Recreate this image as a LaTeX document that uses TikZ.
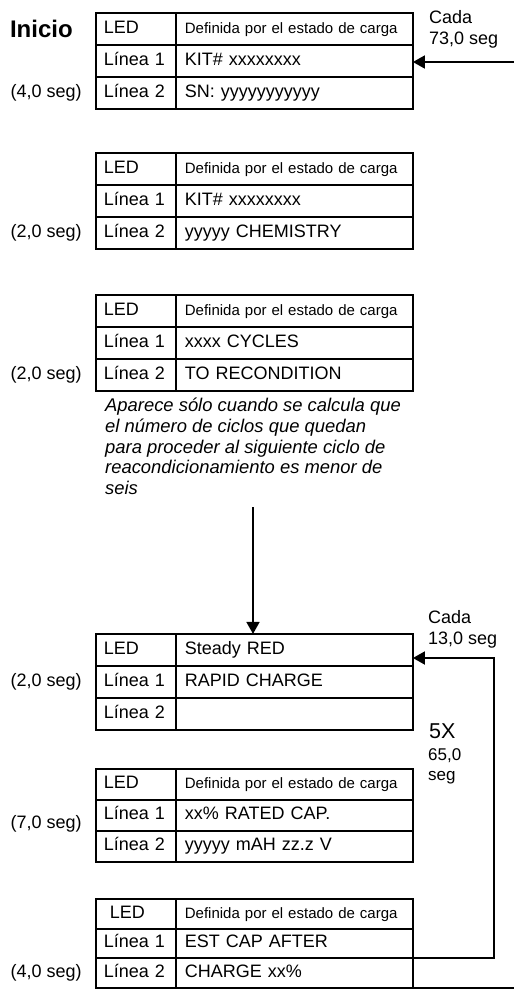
\documentclass[tikz,border=0pt]{standalone}
\usepackage{fontspec}
\setmainfont{Liberation Sans}
\usetikzlibrary{arrows.meta,positioning,matrix}

\tikzset{
    lcd/.style={matrix of nodes, nodes in empty cells,
        anchor=north west, inner sep=0pt, outer sep=0pt,
        column sep=-1.8pt, row sep=-1.8pt,
        nodes={draw, line width=1.8pt, outer sep=0pt, inner ysep=0pt, anchor=center,
            minimum height=#1, text height=13pt, text depth=4pt,
            align=left, font=\fontsize{18}{21}\selectfont},
        column 1/.style={nodes={text width=64pt, inner xsep=8pt}},
        column 2/.style={nodes={text width=219pt, inner xsep=9pt}}},
    lcd/.default=32pt,
    smalltxt/.style={font=\fontsize{15}{17}\selectfont},
    timelbl/.style={font=\fontsize{18}{21}\selectfont, inner sep=0pt},
    flow/.style={line width=1.8pt, -{Triangle[length=12pt,width=13pt]}},
    wire/.style={line width=1.8pt}
}

\begin{document}
\begin{tikzpicture}[x=1pt, y=-1pt]
    \useasboundingbox (0,0) rectangle (514,989);

    % Displays
    \matrix[lcd] (t1) at (95,12) {
        LED & |[smalltxt]| Definida por el estado de carga \\
        Línea 1 & KIT\# xxxxxxxx \\
        Línea 2 & SN: yyyyyyyyyyy \\
    };
    \matrix[lcd] (t2) at (95,152) {
        LED & |[smalltxt]| Definida por el estado de carga \\
        Línea 1 & KIT\# xxxxxxxx \\
        Línea 2 & yyyyy CHEMISTRY \\
    };
    \matrix[lcd] (t3) at (95,294) {
        LED & |[smalltxt]| Definida por el estado de carga \\
        Línea 1 & xxxx CYCLES \\
        Línea 2 & TO RECONDITION \\
    };
    \matrix[lcd] (t4) at (95,633) {
        LED & Steady RED \\
        Línea 1 & RAPID CHARGE \\
        Línea 2 & \\
    };
    \matrix[lcd=31pt] (t5) at (95,768) {
        LED & |[smalltxt]| Definida por el estado de carga \\
        Línea 1 & xx\% RATED CAP. \\
        Línea 2 & yyyyy mAH zz.z V \\
    };
    \matrix[lcd=29.7pt] (t6) at (95,898) {
        \hspace*{6pt}LED & |[smalltxt]| Definida por el estado de carga \\
        Línea 1 & EST CAP AFTER \\
        Línea 2 & CHARGE xx\% \\
    };

    % Times
    \node[font=\bfseries\fontsize{24}{28}\selectfont, inner sep=0pt, left=23pt of t1-1-1] (start) {Inicio};
    \node[timelbl, left=14pt of t1-3-1] (d1) {(4,0 seg)};
    \node[timelbl, left=14pt of t2-3-1] (d2) {(2,0 seg)};
    \node[timelbl, left=14pt of t3-3-1] (d3) {(2,0 seg)};
    \node[timelbl, left=14pt of t4-2-1] (d4) {(2,0 seg)};
    \node[timelbl, anchor=east, yshift=7pt] (d5) at ([xshift=-14pt]t5-3-1.north west) {(7,0 seg)};
    \node[timelbl, left=14pt of t6-3-1] (d6) {(4,0 seg)};

    % Note
    \node[font=\itshape\fontsize{18.4}{20.7}\selectfont, inner sep=0pt, align=left, anchor=north west] (note) at (105,398)
        {Aparece sólo cuando se calcula que\\el número de ciclos que quedan\\para proceder al siguiente ciclo de\\reacondicionamiento es menor de\\seis};

    % Loops
    \node[timelbl, align=left, anchor=north west] (every73) at (429,10) {Cada\\73,0 seg};
    \node[timelbl, align=left, anchor=north west] (every13) at (428,610) {Cada\\13,0 seg};
    \node[font=\fontsize{21.5}{24}\selectfont, inner sep=0pt, anchor=north west] (times) at (429,723) {5X};
    \node[font=\fontsize{17}{20}\selectfont, inner sep=0pt, align=left, anchor=north west] (total) at (428,748) {65,0\\seg};

    % Connectors
    \coordinate (feed) at (514,62);
    \coordinate (drop) at (253,507);
    \coordinate (loop) at (494,658);
    \coordinate (ret) at (514,988);
    \draw[flow] (feed) -- (feed -| t1-2-2.east);
    \draw[flow] (drop) -- (drop |- t4-1-2.north);
    \draw[flow] (t6-2-2.south east) -| (loop) -- (loop -| t4-1-2.east);
    \draw[wire] (t6-3-2.south east) -- (ret);
\end{tikzpicture}
\end{document}
